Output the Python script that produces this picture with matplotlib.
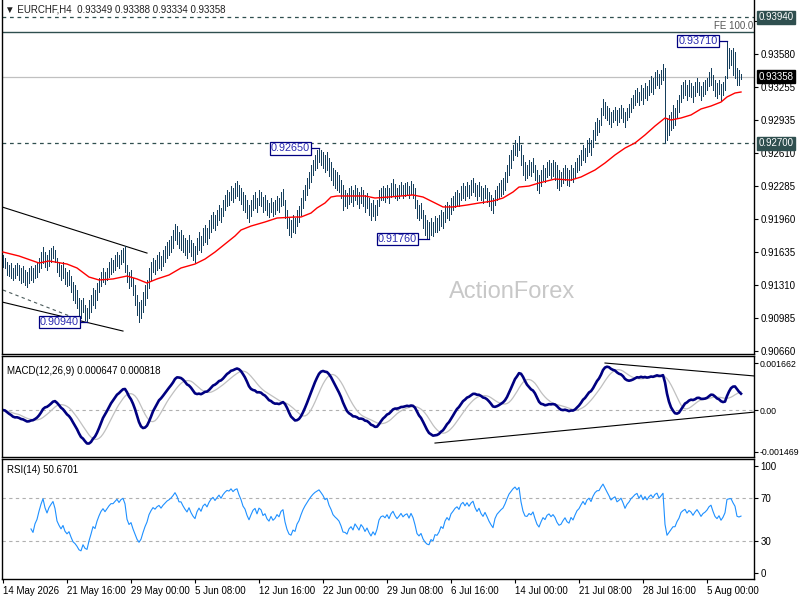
import numpy as np
import pandas as pd
import matplotlib
matplotlib.use("Agg")
import matplotlib.pyplot as plt

plt.rcParams['font.family'] = ['Liberation Sans', 'DejaVu Sans']

# ---------------- datos ----------------
# precios guardados como desplazamiento en 1e-5 sobre 0.90000
BASE = 0.90

hi_pts = [
    1601, 1571, 1532, 1502, 1522, 1473, 1502, 1522, 1502, 1473,
    1492, 1453, 1433, 1473, 1492, 1473, 1502, 1532, 1571, 1630,
    1679, 1630, 1601, 1650, 1670, 1689, 1650, 1571, 1532, 1502,
    1532, 1473, 1433, 1453, 1394, 1335, 1305, 1256, 1177, 1158,
    1177, 1108, 1079, 1158, 1207, 1276, 1256, 1325, 1374, 1433,
    1473, 1433, 1473, 1532, 1571, 1551, 1601, 1630, 1601, 1650,
    1670, 1689, 1502, 1433, 1453, 1374, 1305, 1207, 1138, 1158,
    1236, 1305, 1355, 1473, 1532, 1571, 1551, 1601, 1630, 1591,
    1650, 1689, 1729, 1748, 1788, 1847, 1906, 1886, 1827, 1847,
    1798, 1768, 1748, 1798, 1748, 1719, 1689, 1768, 1827, 1788,
    1867, 1896, 1867, 1945, 1995, 2024, 1995, 2044, 2093, 2064,
    2142, 2192, 2241, 2221, 2280, 2261, 2310, 2330, 2290, 2261,
    2221, 2192, 2142, 2093, 2142, 2192, 2221, 2162, 2241, 2221,
    2172, 2192, 2142, 2113, 2162, 2123, 2142, 2182, 2162, 2221,
    2251, 2142, 2044, 1965, 1945, 1995, 1965, 2044, 2083, 2162,
    2241, 2290, 2359, 2418, 2487, 2536, 2586, 2635, 2650, 2635,
    2615, 2586, 2615, 2556, 2517, 2458, 2438, 2418, 2389, 2339,
    2290, 2241, 2211, 2261, 2280, 2241, 2290, 2261, 2221, 2270,
    2241, 2192, 2211, 2162, 2113, 2142, 2093, 2142, 2241, 2261,
    2280, 2261, 2290, 2261, 2310, 2349, 2300, 2261, 2290, 2320,
    2290, 2310, 2320, 2280, 2330, 2300, 2261, 2142, 2093, 2113,
    2044, 1995, 1945, 1926, 1965, 1926, 1985, 1965, 1995, 2044,
    2024, 2093, 2123, 2093, 2162, 2182, 2221, 2241, 2211, 2280,
    2310, 2280, 2320, 2290, 2339, 2359, 2310, 2290, 2320, 2280,
    2261, 2290, 2261, 2221, 2192, 2162, 2241, 2280, 2310, 2339,
    2359, 2418, 2487, 2586, 2635, 2684, 2733, 2704, 2773, 2684,
    2586, 2517, 2487, 2536, 2517, 2556, 2487, 2438, 2389, 2438,
    2487, 2458, 2517, 2536, 2507, 2536, 2517, 2487, 2438, 2418,
    2458, 2487, 2458, 2438, 2487, 2458, 2517, 2556, 2586, 2635,
    2684, 2654, 2733, 2753, 2733, 2832, 2911, 2950, 2930, 3048,
    3137, 3107, 3068, 3048, 3009, 3029, 3058, 3029, 3048, 3078,
    3048, 3009, 3048, 3088, 3147, 3176, 3226, 3245, 3206, 3275,
    3245, 3295, 3265, 3324, 3364, 3344, 3403, 3423, 3383, 3423,
    3482, 3442, 2950, 2980, 3009, 3078, 3048, 3127, 3176, 3275,
    3304, 3324, 3275, 3324, 3295, 3265, 3304, 3344, 3304, 3265,
    3304, 3324, 3344, 3403, 3442, 3373, 3324, 3295, 3324, 3285,
    3304, 3364, 3710, 3639, 3620, 3639, 3600, 3442, 3423, 3388,
]
lo_pts = [
    1483, 1473, 1404, 1394, 1374, 1355, 1374, 1404, 1355, 1325,
    1335, 1305, 1286, 1325, 1355, 1335, 1374, 1384, 1433, 1473,
    1522, 1483, 1453, 1492, 1532, 1571, 1532, 1433, 1394, 1355,
    1374, 1315, 1296, 1305, 1236, 1158, 1128, 1079, 1010, 980,
    1040, 961, 940, 980, 1040, 1108, 1079, 1158, 1236, 1296,
    1335, 1315, 1355, 1384, 1414, 1433, 1453, 1492, 1473, 1512,
    1532, 1433, 1335, 1276, 1296, 1207, 1108, 1010, 941, 980,
    1040, 1108, 1177, 1276, 1355, 1433, 1414, 1453, 1473, 1453,
    1492, 1532, 1571, 1601, 1630, 1670, 1748, 1709, 1670, 1650,
    1630, 1601, 1571, 1630, 1591, 1551, 1532, 1611, 1650, 1630,
    1699, 1729, 1709, 1768, 1827, 1867, 1847, 1896, 1945, 1926,
    1985, 2044, 2083, 2093, 2142, 2123, 2162, 2182, 2142, 2103,
    2044, 2024, 1965, 1926, 1985, 2044, 2064, 2024, 2093, 2083,
    2024, 2044, 1995, 1975, 2024, 1985, 2005, 2044, 2024, 2083,
    2093, 1965, 1867, 1798, 1778, 1827, 1817, 1886, 1926, 1995,
    2064, 2142, 2192, 2261, 2320, 2389, 2438, 2458, 2517, 2487,
    2458, 2418, 2438, 2379, 2339, 2290, 2261, 2241, 2221, 2162,
    2044, 2083, 2064, 2103, 2123, 2083, 2142, 2103, 2064, 2113,
    2083, 2024, 2064, 1995, 1945, 1985, 1945, 1995, 2083, 2142,
    2142, 2123, 2162, 2113, 2172, 2192, 2162, 2142, 2162, 2192,
    2162, 2182, 2192, 2162, 2201, 2162, 2064, 1965, 1945, 1965,
    1867, 1798, 1768, 1760, 1798, 1788, 1827, 1827, 1847, 1886,
    1867, 1926, 1965, 1945, 2005, 2044, 2074, 2093, 2083, 2142,
    2162, 2142, 2182, 2162, 2192, 2221, 2182, 2142, 2182, 2142,
    2113, 2162, 2123, 2083, 2044, 2014, 2093, 2142, 2162, 2182,
    2201, 2241, 2320, 2389, 2458, 2536, 2586, 2576, 2635, 2487,
    2389, 2339, 2359, 2389, 2379, 2418, 2339, 2241, 2211, 2280,
    2339, 2320, 2369, 2389, 2359, 2379, 2339, 2261, 2241, 2280,
    2310, 2339, 2290, 2280, 2339, 2320, 2359, 2418, 2438, 2487,
    2536, 2517, 2576, 2615, 2586, 2664, 2733, 2783, 2812, 2881,
    2980, 2950, 2930, 2891, 2861, 2911, 2930, 2881, 2911, 2950,
    2911, 2861, 2930, 2960, 3009, 3048, 3078, 3107, 3078, 3127,
    3088, 3147, 3127, 3176, 3206, 3186, 3245, 3275, 3245, 3285,
    3324, 2700, 2733, 2783, 2832, 2851, 2881, 2950, 3009, 3107,
    3147, 3176, 3127, 3167, 3157, 3107, 3167, 3206, 3176, 3127,
    3167, 3186, 3226, 3265, 3275, 3226, 3167, 3147, 3186, 3127,
    3176, 3226, 3344, 3442, 3472, 3373, 3344, 3275, 3275, 3334,
]

# media movil roja (lecturas)
ma_idx = [0, 8, 18, 23, 32, 37, 43, 48, 55, 62, 67, 72, 77, 83, 89, 96, 101, 106,
          111, 116, 119, 124, 131, 137, 146, 149, 154, 157, 161, 164, 167, 172,
          181, 186, 193, 205, 210, 215, 220, 225, 232, 238, 245, 250, 255, 258,
          263, 268, 276, 284, 289, 296, 301, 306, 311, 316, 321, 326, 331, 334,
          339, 344, 349, 354, 359, 362, 366, 369]
ma_pts = [1630, 1591, 1522, 1542, 1512, 1473, 1384, 1355, 1365, 1394, 1365, 1325,
          1365, 1404, 1473, 1512, 1561, 1630, 1709, 1788, 1847, 1886, 1926, 1965,
          1975, 1975, 2014, 2064, 2113, 2172, 2182, 2182, 2182, 2162, 2172, 2192,
          2172, 2123, 2074, 2074, 2093, 2113, 2133, 2162, 2221, 2270, 2280, 2310,
          2349, 2339, 2369, 2438, 2507, 2586, 2654, 2704, 2783, 2871, 2950, 2930,
          2950, 2980, 3039, 3068, 3107, 3157, 3196, 3206]

x_tick_idx = [0, 32, 64, 96, 128, 160, 192, 224, 256, 288, 320, 352]
x_tick_lbl = ['14 May 2026', '21 May 16:00', '29 May 00:00', '5 Jun 08:00',
              '12 Jun 16:00', '22 Jun 00:00', '29 Jun 08:00', '6 Jul 16:00',
              '14 Jul 00:00', '21 Jul 08:00', '28 Jul 16:00', '5 Aug 00:00']

price_ticks = [0.93905, 0.93580, 0.93255, 0.92935, 0.92610, 0.92285,
               0.91960, 0.91635, 0.91310, 0.90985, 0.90660]
fibo_level = 0.93940
fe_level = 0.93797
support = 0.92700
last_price = 0.93358

# maximos/minimos marcados: indice de barra, precio, separacion de la caja
swings = [(362, 0.93710, 4.5), (158, 0.92650, 4.5), (213, 0.91760, 6.0), (42, 0.90940, 4.0)]

# lineas de tendencia dibujadas en el grafico
chan_upper = ([-0.5, 72], [0.92074, 0.91620])
chan_lower = ([-0.5, 60], [0.91138, 0.90852])
chan_mid = ([0, 41], [0.91256, 0.90941])
macd_upper = ([301, 376], [0.001662, 0.001202])
macd_lower = ([216, 376], [-0.001167, -0.000071])

macd_ticks = [0.001662, 0.0, -0.001469]
macd_tick_lbl = ['0.001662', '0.00', '-0.001469']
rsi_ticks = [100, 70, 30, 0]

# ---------------- calculos ----------------
hi = BASE + np.array(hi_pts) / 1e5
lo = BASE + np.array(lo_pts) / 1e5
idx = np.arange(len(hi))
ma = BASE + np.array(ma_pts) / 1e5

med = pd.Series((hi + lo) / 2)
macd = med.ewm(span=12, adjust=False).mean() - med.ewm(span=26, adjust=False).mean()
signal = macd.rolling(9, min_periods=1).mean()
delta = med.diff()
up = delta.clip(lower=0).ewm(alpha=1 / 14, adjust=True, min_periods=14).mean()
dn = (-delta.clip(upper=0)).ewm(alpha=1 / 14, adjust=True, min_periods=14).mean()
rsi = 100 - 100 / (1 + up / dn)

# ---------------- figura ----------------
W, H = 800, 600
fig = plt.figure(figsize=(8, 6), dpi=100)
fig.patch.set_facecolor('white')


def rect(top, bottom):
    return [2 / W, 1 - bottom / H, 752 / W, (bottom - top) / H]


ax = fig.add_axes(rect(0, 354))
axm = fig.add_axes(rect(356, 457))
axr = fig.add_axes(rect(459, 579))

bar_c = '#163f5c'
slate = '#2f4f4f'
fs = 7

for a in (ax, axm, axr):
    a.set_xlim(-0.5, 375.5)
    for s in a.spines.values():
        s.set_linewidth(1.0)
        s.set_color('black')
    a.yaxis.tick_right()
    a.tick_params(axis='y', length=3, width=0.8, pad=1.5, labelsize=fs, colors='black')
    a.tick_params(axis='x', length=0, labelbottom=False)
ax.spines['top'].set_visible(False)

# --- panel de precios ---
ax.set_ylim(0.90626, 0.94112)
ax.set_yticks(price_ticks)
ax.set_yticklabels([f'{p:.5f}' for p in price_ticks])

ax.text(0.678, 0.175, 'ActionForex', transform=ax.transAxes, ha='center', va='center',
        fontsize=17, color='#c8c8c8', zorder=0)

ax.axhline(fibo_level, color=slate, lw=0.9, ls=(0, (3, 3)))
ax.axhline(support, color=slate, lw=0.9, ls=(0, (3, 3)))
ax.axhline(fe_level, color=slate, lw=1.0)
ax.axhline(last_price, color='#c0c0c0', lw=0.9)
ax.text(375, fe_level + 0.00008, 'FE 100.0', ha='right', va='bottom', fontsize=fs, color='#555555')

ax.plot(*chan_upper, color='black', lw=0.8)
ax.plot(*chan_lower, color='black', lw=0.8)
ax.plot(*chan_mid, color='#4a5a5a', lw=0.8, ls=(0, (3, 3)))

ax.vlines(idx, lo, hi, color=bar_c, lw=0.7, antialiased=False, zorder=3)
ax.plot(ma_idx, ma, color='red', lw=1.0, zorder=4)

for bi, price, gap in swings:
    ax.plot([bi - gap, bi], [price, price], color='#000080', lw=0.9, zorder=5)
    ax.text(bi - gap, price, f'{price:.5f}', ha='right', va='center', fontsize=7.8,
            color='#2a2ab0', zorder=6,
            bbox=dict(boxstyle='square,pad=0.12', fc='white', ec='#000080', lw=0.9))

for price, bg in ((fibo_level, slate), (last_price, 'black'), (support, slate)):
    ax.annotate(f'{price:.5f}', xy=(1, price), xycoords=('axes fraction', 'data'),
                xytext=(3, 0), textcoords='offset points', ha='left', va='center',
                fontsize=fs, color='white', annotation_clip=False, zorder=10,
                bbox=dict(boxstyle='square,pad=0.15', fc=bg, ec=bg))

fig.text(5 / W, 1 - 10 / H, '\u25bc EURCHF,H4  0.93349 0.93388 0.93334 0.93358',
         fontsize=fs, va='center', ha='left', color='#202020')

# --- panel MACD ---
axm.set_ylim(-0.00166, 0.00191)
axm.set_yticks(macd_ticks)
axm.set_yticklabels(macd_tick_lbl)
axm.tick_params(axis='y', labelsize=6.3, pad=1.0)
axm.axhline(0, color='#b0b0b0', lw=0.8, ls=(0, (3, 3)))
axm.plot(idx, signal, color='#c0c0c0', lw=0.9)
axm.plot(idx, macd, color='#000080', lw=1.9)
axm.plot(*macd_upper, color='black', lw=0.8)
axm.plot(*macd_lower, color='black', lw=0.8)
axm.text(5 / 752, 0.85, 'MACD(12,26,9) 0.000647 0.000818', transform=axm.transAxes,
         fontsize=fs, va='center', ha='left')

# --- panel RSI ---
axr.set_ylim(-5.6, 106.5)
axr.set_yticks(rsi_ticks)
axr.set_yticklabels([str(v) for v in rsi_ticks])
axr.axhline(70, color='#b0b0b0', lw=0.8, ls=(0, (3, 3)))
axr.axhline(30, color='#b0b0b0', lw=0.8, ls=(0, (3, 3)))
axr.plot(idx, rsi, color='#1e90ff', lw=0.8)
axr.text(5 / 752, 0.91, 'RSI(14) 50.6701', transform=axr.transAxes,
         fontsize=fs, va='center', ha='left')
axr.set_xticks(x_tick_idx)
axr.set_xticklabels(x_tick_lbl)
axr.tick_params(axis='x', length=3, width=0.8, pad=2, labelsize=fs, labelbottom=True)
for lbl in axr.get_xticklabels():
    lbl.set_ha('left')

fig.savefig('out.png', dpi=100)
